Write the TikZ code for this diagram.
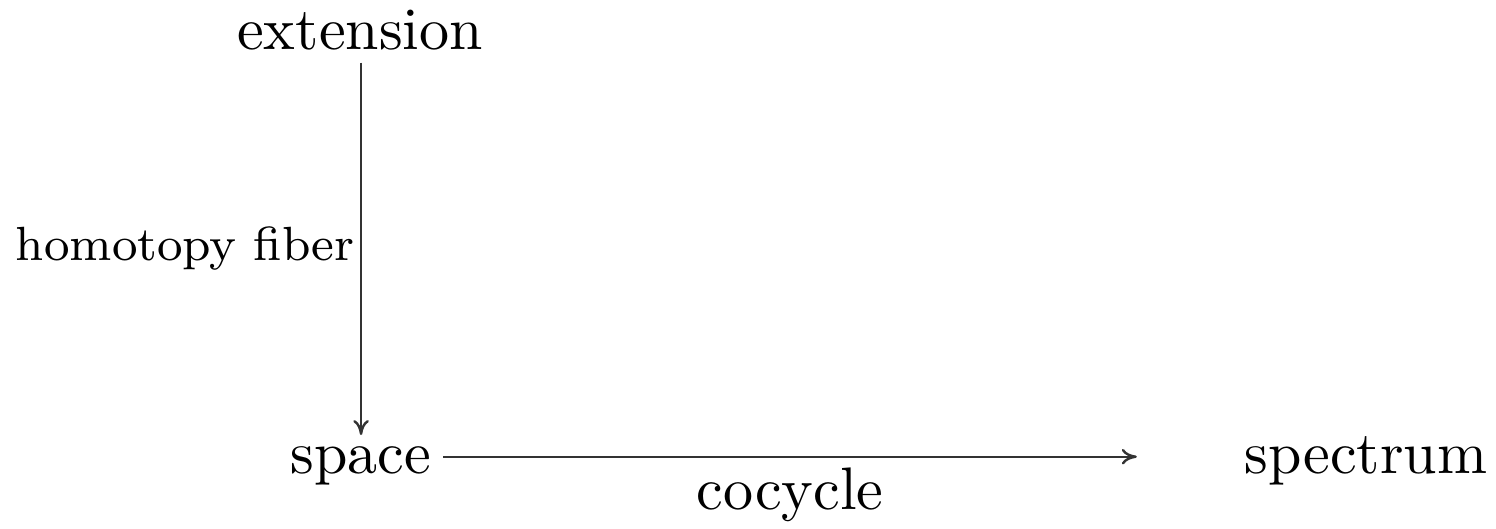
\documentclass[tikz,border=0pt]{standalone}
\usetikzlibrary{arrows.meta}

\begin{document}
\begin{tikzpicture}[
          obj/.style={inner sep=1.8pt,anchor=base},
          arr/.style={-{To[length=2.5pt,width=2.6pt]},line width=.4pt,draw=black!80},
          lbl/.style={inner sep=1.7pt}]
        \useasboundingbox (0,0) rectangle (8.759,3.097);
        \node[obj] (ext) at (2.108,2.805) {extension};
        \node[obj] (spc) at (2.114,0.322) {space};
        \node[obj] (spm) at (7.998,0.322) {spectrum};

        \draw[arr] (ext.south -| spc.north) -- node[left,lbl,inner sep=.9pt,font=\footnotesize]{homotopy fiber} (spc.north);
        \draw[arr] ([yshift=1.6pt]spc.east) -- node[below,lbl]{cocycle}
          ([xshift=-16pt,yshift=1.6pt]spc.east -| spm.west);
      \end{tikzpicture}
\end{document}
